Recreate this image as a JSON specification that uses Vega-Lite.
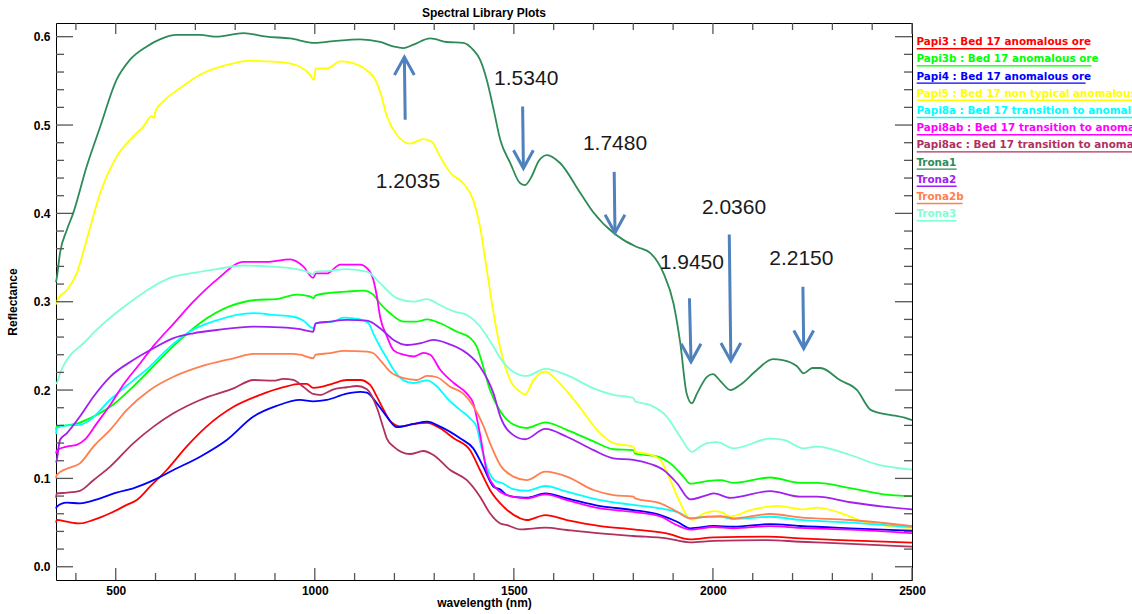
{
"$schema":"https://vega.github.io/schema/vega-lite/v6.json",
"autosize":{"type":"none"},
"padding":{"left":56,"top":23,"right":220,"bottom":34},
"width":856,"height":557,
"title":{"text":"Spectral Library Plots","font":"Liberation Sans","fontSize":12,"fontWeight":"bold","color":"#000","anchor":"middle","offset":2},
"config":{
 "view":{"stroke":"#000","strokeWidth":1},
 "font":"Liberation Sans",
 "axis":{"labelFont":"Liberation Sans","labelFontWeight":"bold","labelFontSize":12,"labelColor":"#000","titleFont":"Liberation Sans","titleFontWeight":"bold","titleFontSize":12,"titleColor":"#000","tickColor":"#444","tickWidth":1.5,"domain":false,"grid":false,"labelOverlap":false,"labelFlush":false},
 "legend":{"orient":"none","legendX":850,"legendY":14,"direction":"vertical","title":null,"padding":0,"symbolSize":0,"symbolStrokeWidth":0,"symbolOpacity":0,"labelOffset":0,"labelFont":"DejaVu Sans","labelFontWeight":"bold","labelFontSize":10.4,"labelLimit":800,"rowPadding":2.2}
},
"datasets":{
"xmaj":[{"t":500},{"t":1000},{"t":1500},{"t":2000},{"t":2500}],
"xmin":[{"t":400},{"t":600},{"t":700},{"t":800},{"t":900},{"t":1100},{"t":1200},{"t":1300},{"t":1400},{"t":1600},{"t":1700},{"t":1800},{"t":1900},{"t":2100},{"t":2200},{"t":2300},{"t":2400}],
"ymaj":[{"t":0},{"t":0.1},{"t":0.2},{"t":0.3},{"t":0.4},{"t":0.5},{"t":0.6}],
"ymin":[{"t":0.02},{"t":0.04},{"t":0.06},{"t":0.08},{"t":0.12},{"t":0.14},{"t":0.16},{"t":0.18},{"t":0.22},{"t":0.24},{"t":0.26},{"t":0.28},{"t":0.32},{"t":0.34},{"t":0.36},{"t":0.38},{"t":0.42},{"t":0.44},{"t":0.46},{"t":0.48},{"t":0.52},{"t":0.54},{"t":0.56},{"t":0.58}],
"series":[
{"s":"Papi3","label":"Papi3 : Bed 17 anomalous ore"},
{"s":"Papi3b","label":"Papi3b : Bed 17 anomalous ore"},
{"s":"Papi4","label":"Papi4 : Bed 17 anomalous ore"},
{"s":"Papi5","label":"Papi5 : Bed 17 non typical anomalous ore"},
{"s":"Papi8a","label":"Papi8a : Bed 17 transition to anomalous ore"},
{"s":"Papi8ab","label":"Papi8ab : Bed 17 transition to anomalous ore"},
{"s":"Papi8ac","label":"Papi8ac : Bed 17 transition to anomalous ore"},
{"s":"Trona1","label":"Trona1"},
{"s":"Trona2","label":"Trona2"},
{"s":"Trona2b","label":"Trona2b"},
{"s":"Trona3","label":"Trona3"}
],
"notes":[
{"lab":"1.2035","x1":1227,"y1":0.506,"x2":1225,"y2":0.577,"dir":"up","tx":1234,"ty":0.436},
{"lab":"1.5340","x1":1522,"y1":0.521,"x2":1524,"y2":0.451,"dir":"down","tx":1531,"ty":0.552},
{"lab":"1.7480","x1":1752,"y1":0.447,"x2":1754,"y2":0.378,"dir":"down","tx":1754,"ty":0.479},
{"lab":"1.9450","x1":1941,"y1":0.304,"x2":1945,"y2":0.232,"dir":"down","tx":1947,"ty":0.344},
{"lab":"2.0360","x1":2041,"y1":0.376,"x2":2045,"y2":0.233,"dir":"down","tx":2053,"ty":0.406},
{"lab":"2.2150","x1":2226,"y1":0.317,"x2":2228,"y2":0.247,"dir":"down","tx":2222,"ty":0.348}
],
"spectra":[
{"s":"Papi3","w":350,"r":0.05},{"s":"Papi3","w":352,"r":0.053},{"s":"Papi3","w":377,"r":0.051},{"s":"Papi3","w":410,"r":0.049},{"s":"Papi3","w":444,"r":0.053},{"s":"Papi3","w":486,"r":0.0605},{"s":"Papi3","w":528,"r":0.07},{"s":"Papi3","w":553,"r":0.0755},{"s":"Papi3","w":586,"r":0.0906},{"s":"Papi3","w":628,"r":0.1095},{"s":"Papi3","w":678,"r":0.136},{"s":"Papi3","w":728,"r":0.1586},{"s":"Papi3","w":796,"r":0.181},{"s":"Papi3","w":863,"r":0.1945},{"s":"Papi3","w":921,"r":0.2032},{"s":"Papi3","w":963,"r":0.207},{"s":"Papi3","w":980,"r":0.207},{"s":"Papi3","w":996,"r":0.2025},{"s":"Papi3","w":1013,"r":0.2032},{"s":"Papi3","w":1047,"r":0.2077},{"s":"Papi3","w":1080,"r":0.2114},{"s":"Papi3","w":1114,"r":0.2114},{"s":"Papi3","w":1139,"r":0.2058},{"s":"Papi3","w":1156,"r":0.1925},{"s":"Papi3","w":1173,"r":0.1775},{"s":"Papi3","w":1189,"r":0.165},{"s":"Papi3","w":1214,"r":0.159},{"s":"Papi3","w":1248,"r":0.1616},{"s":"Papi3","w":1282,"r":0.163},{"s":"Papi3","w":1315,"r":0.1567},{"s":"Papi3","w":1349,"r":0.1454},{"s":"Papi3","w":1390,"r":0.132},{"s":"Papi3","w":1415,"r":0.1095},{"s":"Papi3","w":1440,"r":0.0869},{"s":"Papi3","w":1474,"r":0.068},{"s":"Papi3","w":1516,"r":0.0548},{"s":"Papi3","w":1532,"r":0.0529},{"s":"Papi3","w":1579,"r":0.0585},{"s":"Papi3","w":1633,"r":0.0529},{"s":"Papi3","w":1717,"r":0.0461},{"s":"Papi3","w":1800,"r":0.0423},{"s":"Papi3","w":1884,"r":0.0378},{"s":"Papi3","w":1943,"r":0.031},{"s":"Papi3","w":2002,"r":0.0333},{"s":"Papi3","w":2136,"r":0.034},{"s":"Papi3","w":2219,"r":0.0321},{"s":"Papi3","w":2320,"r":0.0302},{"s":"Papi3","w":2500,"r":0.0272},
{"s":"Papi3b","w":350,"r":0.155},{"s":"Papi3b","w":352,"r":0.159},{"s":"Papi3b","w":377,"r":0.16},{"s":"Papi3b","w":402,"r":0.162},{"s":"Papi3b","w":435,"r":0.168},{"s":"Papi3b","w":486,"r":0.181},{"s":"Papi3b","w":544,"r":0.204},{"s":"Papi3b","w":586,"r":0.223},{"s":"Papi3b","w":650,"r":0.252},{"s":"Papi3b","w":712,"r":0.276},{"s":"Papi3b","w":787,"r":0.295},{"s":"Papi3b","w":854,"r":0.302},{"s":"Papi3b","w":904,"r":0.303},{"s":"Papi3b","w":955,"r":0.308},{"s":"Papi3b","w":988,"r":0.306},{"s":"Papi3b","w":997,"r":0.304},{"s":"Papi3b","w":1001,"r":0.307},{"s":"Papi3b","w":1038,"r":0.31},{"s":"Papi3b","w":1080,"r":0.3115},{"s":"Papi3b","w":1122,"r":0.3126},{"s":"Papi3b","w":1147,"r":0.308},{"s":"Papi3b","w":1164,"r":0.298},{"s":"Papi3b","w":1189,"r":0.287},{"s":"Papi3b","w":1223,"r":0.2775},{"s":"Papi3b","w":1256,"r":0.2775},{"s":"Papi3b","w":1282,"r":0.28},{"s":"Papi3b","w":1315,"r":0.2756},{"s":"Papi3b","w":1357,"r":0.266},{"s":"Papi3b","w":1390,"r":0.259},{"s":"Papi3b","w":1407,"r":0.249},{"s":"Papi3b","w":1423,"r":0.2265},{"s":"Papi3b","w":1440,"r":0.2},{"s":"Papi3b","w":1466,"r":0.176},{"s":"Papi3b","w":1499,"r":0.161},{"s":"Papi3b","w":1532,"r":0.157},{"s":"Papi3b","w":1579,"r":0.1635},{"s":"Papi3b","w":1633,"r":0.155},{"s":"Papi3b","w":1700,"r":0.142},{"s":"Papi3b","w":1750,"r":0.133},{"s":"Papi3b","w":1800,"r":0.132},{"s":"Papi3b","w":1805,"r":0.128},{"s":"Papi3b","w":1859,"r":0.125},{"s":"Papi3b","w":1893,"r":0.117},{"s":"Papi3b","w":1926,"r":0.102},{"s":"Papi3b","w":1943,"r":0.094},{"s":"Papi3b","w":1985,"r":0.097},{"s":"Papi3b","w":2019,"r":0.098},{"s":"Papi3b","w":2052,"r":0.095},{"s":"Papi3b","w":2144,"r":0.101},{"s":"Papi3b","w":2219,"r":0.095},{"s":"Papi3b","w":2261,"r":0.095},{"s":"Papi3b","w":2345,"r":0.089},{"s":"Papi3b","w":2428,"r":0.082},{"s":"Papi3b","w":2500,"r":0.08},
{"s":"Papi4","w":350,"r":0.066},{"s":"Papi4","w":352,"r":0.068},{"s":"Papi4","w":377,"r":0.0725},{"s":"Papi4","w":410,"r":0.0718},{"s":"Papi4","w":461,"r":0.0775},{"s":"Papi4","w":502,"r":0.0838},{"s":"Papi4","w":544,"r":0.0888},{"s":"Papi4","w":595,"r":0.098},{"s":"Papi4","w":645,"r":0.1095},{"s":"Papi4","w":712,"r":0.1246},{"s":"Papi4","w":779,"r":0.1435},{"s":"Papi4","w":846,"r":0.17},{"s":"Papi4","w":904,"r":0.182},{"s":"Papi4","w":963,"r":0.1888},{"s":"Papi4","w":996,"r":0.1872},{"s":"Papi4","w":1030,"r":0.1888},{"s":"Papi4","w":1080,"r":0.196},{"s":"Papi4","w":1114,"r":0.198},{"s":"Papi4","w":1131,"r":0.197},{"s":"Papi4","w":1156,"r":0.185},{"s":"Papi4","w":1181,"r":0.17},{"s":"Papi4","w":1206,"r":0.158},{"s":"Papi4","w":1248,"r":0.1616},{"s":"Papi4","w":1282,"r":0.1642},{"s":"Papi4","w":1315,"r":0.1586},{"s":"Papi4","w":1365,"r":0.1454},{"s":"Papi4","w":1398,"r":0.134},{"s":"Papi4","w":1423,"r":0.1133},{"s":"Papi4","w":1449,"r":0.0906},{"s":"Papi4","w":1466,"r":0.0875},{"s":"Papi4","w":1483,"r":0.0812},{"s":"Papi4","w":1516,"r":0.0785},{"s":"Papi4","w":1532,"r":0.0781},{"s":"Papi4","w":1579,"r":0.0831},{"s":"Papi4","w":1633,"r":0.0775},{"s":"Papi4","w":1717,"r":0.0687},{"s":"Papi4","w":1800,"r":0.0642},{"s":"Papi4","w":1868,"r":0.0585},{"s":"Papi4","w":1910,"r":0.051},{"s":"Papi4","w":1943,"r":0.0435},{"s":"Papi4","w":2002,"r":0.0461},{"s":"Papi4","w":2052,"r":0.0453},{"s":"Papi4","w":2144,"r":0.0483},{"s":"Papi4","w":2219,"r":0.0461},{"s":"Papi4","w":2345,"r":0.0435},{"s":"Papi4","w":2500,"r":0.0408},
{"s":"Papi5","w":350,"r":0.297},{"s":"Papi5","w":356,"r":0.304},{"s":"Papi5","w":377,"r":0.313},{"s":"Papi5","w":402,"r":0.332},{"s":"Papi5","w":427,"r":0.37},{"s":"Papi5","w":461,"r":0.423},{"s":"Papi5","w":502,"r":0.464},{"s":"Papi5","w":544,"r":0.487},{"s":"Papi5","w":569,"r":0.498},{"s":"Papi5","w":590,"r":0.51},{"s":"Papi5","w":596,"r":0.508},{"s":"Papi5","w":600,"r":0.516},{"s":"Papi5","w":620,"r":0.527},{"s":"Papi5","w":662,"r":0.542},{"s":"Papi5","w":712,"r":0.557},{"s":"Papi5","w":779,"r":0.568},{"s":"Papi5","w":837,"r":0.573},{"s":"Papi5","w":879,"r":0.572},{"s":"Papi5","w":921,"r":0.571},{"s":"Papi5","w":963,"r":0.566},{"s":"Papi5","w":988,"r":0.557},{"s":"Papi5","w":998,"r":0.551},{"s":"Papi5","w":1002,"r":0.564},{"s":"Papi5","w":1030,"r":0.564},{"s":"Papi5","w":1064,"r":0.572},{"s":"Papi5","w":1114,"r":0.567},{"s":"Papi5","w":1130,"r":0.562},{"s":"Papi5","w":1150,"r":0.553},{"s":"Papi5","w":1164,"r":0.538},{"s":"Papi5","w":1181,"r":0.51},{"s":"Papi5","w":1206,"r":0.489},{"s":"Papi5","w":1239,"r":0.479},{"s":"Papi5","w":1273,"r":0.484},{"s":"Papi5","w":1294,"r":0.481},{"s":"Papi5","w":1315,"r":0.464},{"s":"Papi5","w":1340,"r":0.446},{"s":"Papi5","w":1373,"r":0.434},{"s":"Papi5","w":1398,"r":0.415},{"s":"Papi5","w":1415,"r":0.385},{"s":"Papi5","w":1432,"r":0.336},{"s":"Papi5","w":1449,"r":0.287},{"s":"Papi5","w":1466,"r":0.247},{"s":"Papi5","w":1491,"r":0.211},{"s":"Papi5","w":1516,"r":0.198},{"s":"Papi5","w":1528,"r":0.195},{"s":"Papi5","w":1549,"r":0.211},{"s":"Papi5","w":1579,"r":0.221},{"s":"Papi5","w":1608,"r":0.211},{"s":"Papi5","w":1658,"r":0.185},{"s":"Papi5","w":1717,"r":0.151},{"s":"Papi5","w":1750,"r":0.14},{"s":"Papi5","w":1800,"r":0.136},{"s":"Papi5","w":1805,"r":0.13},{"s":"Papi5","w":1843,"r":0.127},{"s":"Papi5","w":1868,"r":0.121},{"s":"Papi5","w":1893,"r":0.098},{"s":"Papi5","w":1918,"r":0.072},{"s":"Papi5","w":1939,"r":0.055},{"s":"Papi5","w":1950,"r":0.053},{"s":"Papi5","w":1976,"r":0.06},{"s":"Papi5","w":2002,"r":0.063},{"s":"Papi5","w":2019,"r":0.062},{"s":"Papi5","w":2044,"r":0.057},{"s":"Papi5","w":2094,"r":0.064},{"s":"Papi5","w":2161,"r":0.069},{"s":"Papi5","w":2228,"r":0.065},{"s":"Papi5","w":2261,"r":0.067},{"s":"Papi5","w":2320,"r":0.061},{"s":"Papi5","w":2378,"r":0.051},{"s":"Papi5","w":2470,"r":0.045},{"s":"Papi5","w":2500,"r":0.044},
{"s":"Papi8a","w":350,"r":0.15},{"s":"Papi8a","w":352,"r":0.157},{"s":"Papi8a","w":377,"r":0.16},{"s":"Papi8a","w":410,"r":0.1605},{"s":"Papi8a","w":435,"r":0.166},{"s":"Papi8a","w":486,"r":0.189},{"s":"Papi8a","w":544,"r":0.211},{"s":"Papi8a","w":586,"r":0.2265},{"s":"Papi8a","w":620,"r":0.242},{"s":"Papi8a","w":678,"r":0.264},{"s":"Papi8a","w":754,"r":0.279},{"s":"Papi8a","w":846,"r":0.287},{"s":"Papi8a","w":896,"r":0.285},{"s":"Papi8a","w":946,"r":0.283},{"s":"Papi8a","w":970,"r":0.279},{"s":"Papi8a","w":996,"r":0.27},{"s":"Papi8a","w":1003,"r":0.2756},{"s":"Papi8a","w":1047,"r":0.2775},{"s":"Papi8a","w":1072,"r":0.282},{"s":"Papi8a","w":1114,"r":0.28},{"s":"Papi8a","w":1135,"r":0.2756},{"s":"Papi8a","w":1147,"r":0.264},{"s":"Papi8a","w":1164,"r":0.249},{"s":"Papi8a","w":1181,"r":0.236},{"s":"Papi8a","w":1198,"r":0.223},{"s":"Papi8a","w":1223,"r":0.211},{"s":"Papi8a","w":1248,"r":0.208},{"s":"Papi8a","w":1282,"r":0.211},{"s":"Papi8a","w":1307,"r":0.204},{"s":"Papi8a","w":1332,"r":0.191},{"s":"Papi8a","w":1365,"r":0.1775},{"s":"Papi8a","w":1390,"r":0.168},{"s":"Papi8a","w":1407,"r":0.158},{"s":"Papi8a","w":1415,"r":0.142},{"s":"Papi8a","w":1432,"r":0.113},{"s":"Papi8a","w":1457,"r":0.0963},{"s":"Papi8a","w":1466,"r":0.0955},{"s":"Papi8a","w":1499,"r":0.0878},{"s":"Papi8a","w":1532,"r":0.086},{"s":"Papi8a","w":1579,"r":0.0914},{"s":"Papi8a","w":1633,"r":0.085},{"s":"Papi8a","w":1717,"r":0.0755},{"s":"Papi8a","w":1800,"r":0.07},{"s":"Papi8a","w":1868,"r":0.066},{"s":"Papi8a","w":1918,"r":0.0605},{"s":"Papi8a","w":1943,"r":0.0548},{"s":"Papi8a","w":1985,"r":0.0566},{"s":"Papi8a","w":2019,"r":0.0566},{"s":"Papi8a","w":2052,"r":0.054},{"s":"Papi8a","w":2144,"r":0.0566},{"s":"Papi8a","w":2219,"r":0.053},{"s":"Papi8a","w":2345,"r":0.05},{"s":"Papi8a","w":2500,"r":0.045},
{"s":"Papi8ab","w":350,"r":0.128},{"s":"Papi8ab","w":352,"r":0.132},{"s":"Papi8ab","w":377,"r":0.136},{"s":"Papi8ab","w":402,"r":0.138},{"s":"Papi8ab","w":425,"r":0.145},{"s":"Papi8ab","w":452,"r":0.162},{"s":"Papi8ab","w":486,"r":0.183},{"s":"Papi8ab","w":519,"r":0.206},{"s":"Papi8ab","w":561,"r":0.23},{"s":"Papi8ab","w":595,"r":0.25},{"s":"Papi8ab","w":645,"r":0.275},{"s":"Papi8ab","w":695,"r":0.3},{"s":"Papi8ab","w":754,"r":0.325},{"s":"Papi8ab","w":821,"r":0.345},{"s":"Papi8ab","w":879,"r":0.345},{"s":"Papi8ab","w":938,"r":0.348},{"s":"Papi8ab","w":971,"r":0.34},{"s":"Papi8ab","w":996,"r":0.327},{"s":"Papi8ab","w":1003,"r":0.332},{"s":"Papi8ab","w":1030,"r":0.332},{"s":"Papi8ab","w":1064,"r":0.342},{"s":"Papi8ab","w":1114,"r":0.342},{"s":"Papi8ab","w":1131,"r":0.338},{"s":"Papi8ab","w":1147,"r":0.325},{"s":"Papi8ab","w":1156,"r":0.306},{"s":"Papi8ab","w":1164,"r":0.283},{"s":"Papi8ab","w":1181,"r":0.261},{"s":"Papi8ab","w":1198,"r":0.245},{"s":"Papi8ab","w":1223,"r":0.24},{"s":"Papi8ab","w":1248,"r":0.238},{"s":"Papi8ab","w":1273,"r":0.242},{"s":"Papi8ab","w":1290,"r":0.24},{"s":"Papi8ab","w":1315,"r":0.223},{"s":"Papi8ab","w":1349,"r":0.208},{"s":"Papi8ab","w":1382,"r":0.196},{"s":"Papi8ab","w":1398,"r":0.185},{"s":"Papi8ab","w":1415,"r":0.15},{"s":"Papi8ab","w":1432,"r":0.108},{"s":"Papi8ab","w":1457,"r":0.088},{"s":"Papi8ab","w":1483,"r":0.081},{"s":"Papi8ab","w":1499,"r":0.079},{"s":"Papi8ab","w":1532,"r":0.0775},{"s":"Papi8ab","w":1579,"r":0.082},{"s":"Papi8ab","w":1633,"r":0.0755},{"s":"Papi8ab","w":1717,"r":0.066},{"s":"Papi8ab","w":1800,"r":0.062},{"s":"Papi8ab","w":1868,"r":0.057},{"s":"Papi8ab","w":1901,"r":0.049},{"s":"Papi8ab","w":1943,"r":0.042},{"s":"Papi8ab","w":2002,"r":0.045},{"s":"Papi8ab","w":2052,"r":0.0435},{"s":"Papi8ab","w":2144,"r":0.046},{"s":"Papi8ab","w":2219,"r":0.044},{"s":"Papi8ab","w":2345,"r":0.042},{"s":"Papi8ab","w":2500,"r":0.038},
{"s":"Papi8ac","w":350,"r":0.078},{"s":"Papi8ac","w":352,"r":0.083},{"s":"Papi8ac","w":377,"r":0.0838},{"s":"Papi8ac","w":410,"r":0.086},{"s":"Papi8ac","w":444,"r":0.098},{"s":"Papi8ac","w":486,"r":0.1133},{"s":"Papi8ac","w":544,"r":0.1397},{"s":"Papi8ac","w":595,"r":0.1586},{"s":"Papi8ac","w":645,"r":0.1737},{"s":"Papi8ac","w":712,"r":0.1888},{"s":"Papi8ac","w":796,"r":0.202},{"s":"Papi8ac","w":846,"r":0.2114},{"s":"Papi8ac","w":896,"r":0.2106},{"s":"Papi8ac","w":921,"r":0.2126},{"s":"Papi8ac","w":946,"r":0.2114},{"s":"Papi8ac","w":971,"r":0.2038},{"s":"Papi8ac","w":996,"r":0.1956},{"s":"Papi8ac","w":1013,"r":0.1945},{"s":"Papi8ac","w":1047,"r":0.2009},{"s":"Papi8ac","w":1080,"r":0.2032},{"s":"Papi8ac","w":1106,"r":0.2046},{"s":"Papi8ac","w":1131,"r":0.2009},{"s":"Papi8ac","w":1156,"r":0.18},{"s":"Papi8ac","w":1173,"r":0.156},{"s":"Papi8ac","w":1181,"r":0.145},{"s":"Papi8ac","w":1198,"r":0.136},{"s":"Papi8ac","w":1239,"r":0.1276},{"s":"Papi8ac","w":1273,"r":0.131},{"s":"Papi8ac","w":1298,"r":0.1265},{"s":"Papi8ac","w":1340,"r":0.1095},{"s":"Papi8ac","w":1382,"r":0.098},{"s":"Papi8ac","w":1415,"r":0.0793},{"s":"Papi8ac","w":1440,"r":0.0605},{"s":"Papi8ac","w":1466,"r":0.049},{"s":"Papi8ac","w":1483,"r":0.0472},{"s":"Papi8ac","w":1516,"r":0.0423},{"s":"Papi8ac","w":1579,"r":0.0442},{"s":"Papi8ac","w":1633,"r":0.0416},{"s":"Papi8ac","w":1717,"r":0.0378},{"s":"Papi8ac","w":1800,"r":0.0348},{"s":"Papi8ac","w":1884,"r":0.0321},{"s":"Papi8ac","w":1943,"r":0.0276},{"s":"Papi8ac","w":2002,"r":0.0294},{"s":"Papi8ac","w":2136,"r":0.0302},{"s":"Papi8ac","w":2219,"r":0.0283},{"s":"Papi8ac","w":2320,"r":0.0265},{"s":"Papi8ac","w":2500,"r":0.0227},
{"s":"Trona1","w":350,"r":0.322},{"s":"Trona1","w":352,"r":0.327},{"s":"Trona1","w":360,"r":0.355},{"s":"Trona1","w":377,"r":0.381},{"s":"Trona1","w":393,"r":0.4},{"s":"Trona1","w":427,"r":0.453},{"s":"Trona1","w":461,"r":0.498},{"s":"Trona1","w":502,"r":0.551},{"s":"Trona1","w":536,"r":0.574},{"s":"Trona1","w":578,"r":0.589},{"s":"Trona1","w":611,"r":0.597},{"s":"Trona1","w":653,"r":0.602},{"s":"Trona1","w":712,"r":0.602},{"s":"Trona1","w":754,"r":0.6},{"s":"Trona1","w":821,"r":0.604},{"s":"Trona1","w":879,"r":0.6},{"s":"Trona1","w":938,"r":0.598},{"s":"Trona1","w":1000,"r":0.593},{"s":"Trona1","w":1047,"r":0.595},{"s":"Trona1","w":1114,"r":0.597},{"s":"Trona1","w":1164,"r":0.594},{"s":"Trona1","w":1197,"r":0.589},{"s":"Trona1","w":1222,"r":0.587},{"s":"Trona1","w":1248,"r":0.591},{"s":"Trona1","w":1290,"r":0.598},{"s":"Trona1","w":1332,"r":0.594},{"s":"Trona1","w":1373,"r":0.593},{"s":"Trona1","w":1398,"r":0.585},{"s":"Trona1","w":1415,"r":0.574},{"s":"Trona1","w":1432,"r":0.551},{"s":"Trona1","w":1449,"r":0.518},{"s":"Trona1","w":1466,"r":0.483},{"s":"Trona1","w":1491,"r":0.457},{"s":"Trona1","w":1516,"r":0.434},{"s":"Trona1","w":1528,"r":0.432},{"s":"Trona1","w":1545,"r":0.442},{"s":"Trona1","w":1562,"r":0.459},{"s":"Trona1","w":1583,"r":0.466},{"s":"Trona1","w":1616,"r":0.457},{"s":"Trona1","w":1667,"r":0.423},{"s":"Trona1","w":1700,"r":0.401},{"s":"Trona1","w":1750,"r":0.378},{"s":"Trona1","w":1775,"r":0.37},{"s":"Trona1","w":1809,"r":0.362},{"s":"Trona1","w":1843,"r":0.355},{"s":"Trona1","w":1876,"r":0.332},{"s":"Trona1","w":1901,"r":0.298},{"s":"Trona1","w":1918,"r":0.253},{"s":"Trona1","w":1934,"r":0.196},{"s":"Trona1","w":1947,"r":0.185},{"s":"Trona1","w":1960,"r":0.196},{"s":"Trona1","w":1985,"r":0.215},{"s":"Trona1","w":2000,"r":0.218},{"s":"Trona1","w":2019,"r":0.21},{"s":"Trona1","w":2044,"r":0.2},{"s":"Trona1","w":2069,"r":0.206},{"s":"Trona1","w":2111,"r":0.223},{"s":"Trona1","w":2150,"r":0.235},{"s":"Trona1","w":2175,"r":0.234},{"s":"Trona1","w":2211,"r":0.227},{"s":"Trona1","w":2228,"r":0.219},{"s":"Trona1","w":2250,"r":0.225},{"s":"Trona1","w":2270,"r":0.225},{"s":"Trona1","w":2320,"r":0.211},{"s":"Trona1","w":2362,"r":0.2},{"s":"Trona1","w":2395,"r":0.178},{"s":"Trona1","w":2410,"r":0.175},{"s":"Trona1","w":2445,"r":0.172},{"s":"Trona1","w":2487,"r":0.168},{"s":"Trona1","w":2500,"r":0.166},
{"s":"Trona2","w":350,"r":0.118},{"s":"Trona2","w":352,"r":0.121},{"s":"Trona2","w":360,"r":0.1435},{"s":"Trona2","w":377,"r":0.151},{"s":"Trona2","w":410,"r":0.17},{"s":"Trona2","w":444,"r":0.1925},{"s":"Trona2","w":486,"r":0.215},{"s":"Trona2","w":544,"r":0.234},{"s":"Trona2","w":595,"r":0.2473},{"s":"Trona2","w":645,"r":0.2587},{"s":"Trona2","w":695,"r":0.2643},{"s":"Trona2","w":754,"r":0.268},{"s":"Trona2","w":846,"r":0.2718},{"s":"Trona2","w":913,"r":0.271},{"s":"Trona2","w":963,"r":0.269},{"s":"Trona2","w":996,"r":0.266},{"s":"Trona2","w":1002,"r":0.2756},{"s":"Trona2","w":1038,"r":0.2775},{"s":"Trona2","w":1080,"r":0.2794},{"s":"Trona2","w":1131,"r":0.2786},{"s":"Trona2","w":1164,"r":0.27},{"s":"Trona2","w":1198,"r":0.2567},{"s":"Trona2","w":1231,"r":0.251},{"s":"Trona2","w":1265,"r":0.253},{"s":"Trona2","w":1298,"r":0.2567},{"s":"Trona2","w":1332,"r":0.253},{"s":"Trona2","w":1382,"r":0.2417},{"s":"Trona2","w":1415,"r":0.2265},{"s":"Trona2","w":1449,"r":0.196},{"s":"Trona2","w":1466,"r":0.17},{"s":"Trona2","w":1499,"r":0.149},{"s":"Trona2","w":1528,"r":0.1443},{"s":"Trona2","w":1579,"r":0.156},{"s":"Trona2","w":1633,"r":0.1472},{"s":"Trona2","w":1700,"r":0.132},{"s":"Trona2","w":1750,"r":0.1227},{"s":"Trona2","w":1800,"r":0.121},{"s":"Trona2","w":1843,"r":0.1163},{"s":"Trona2","w":1876,"r":0.1095},{"s":"Trona2","w":1910,"r":0.0944},{"s":"Trona2","w":1943,"r":0.0763},{"s":"Trona2","w":1985,"r":0.0812},{"s":"Trona2","w":2002,"r":0.0831},{"s":"Trona2","w":2044,"r":0.078},{"s":"Trona2","w":2144,"r":0.0857},{"s":"Trona2","w":2219,"r":0.0793},{"s":"Trona2","w":2261,"r":0.0793},{"s":"Trona2","w":2345,"r":0.073},{"s":"Trona2","w":2428,"r":0.068},{"s":"Trona2","w":2500,"r":0.065},
{"s":"Trona2b","w":350,"r":0.1},{"s":"Trona2b","w":352,"r":0.104},{"s":"Trona2b","w":377,"r":0.111},{"s":"Trona2b","w":410,"r":0.117},{"s":"Trona2b","w":444,"r":0.136},{"s":"Trona2b","w":486,"r":0.155},{"s":"Trona2b","w":528,"r":0.1775},{"s":"Trona2b","w":586,"r":0.2},{"s":"Trona2b","w":645,"r":0.215},{"s":"Trona2b","w":712,"r":0.2265},{"s":"Trona2b","w":796,"r":0.236},{"s":"Trona2b","w":846,"r":0.241},{"s":"Trona2b","w":946,"r":0.241},{"s":"Trona2b","w":963,"r":0.24},{"s":"Trona2b","w":996,"r":0.236},{"s":"Trona2b","w":1002,"r":0.24},{"s":"Trona2b","w":1038,"r":0.2417},{"s":"Trona2b","w":1072,"r":0.2443},{"s":"Trona2b","w":1131,"r":0.2435},{"s":"Trona2b","w":1147,"r":0.2417},{"s":"Trona2b","w":1164,"r":0.234},{"s":"Trona2b","w":1189,"r":0.2208},{"s":"Trona2b","w":1223,"r":0.2134},{"s":"Trona2b","w":1256,"r":0.2114},{"s":"Trona2b","w":1282,"r":0.216},{"s":"Trona2b","w":1307,"r":0.2145},{"s":"Trona2b","w":1340,"r":0.2038},{"s":"Trona2b","w":1373,"r":0.196},{"s":"Trona2b","w":1398,"r":0.182},{"s":"Trona2b","w":1423,"r":0.16},{"s":"Trona2b","w":1440,"r":0.14},{"s":"Trona2b","w":1466,"r":0.115},{"s":"Trona2b","w":1499,"r":0.102},{"s":"Trona2b","w":1532,"r":0.098},{"s":"Trona2b","w":1579,"r":0.1076},{"s":"Trona2b","w":1633,"r":0.102},{"s":"Trona2b","w":1700,"r":0.0869},{"s":"Trona2b","w":1750,"r":0.0812},{"s":"Trona2b","w":1800,"r":0.0793},{"s":"Trona2b","w":1805,"r":0.0774},{"s":"Trona2b","w":1868,"r":0.0718},{"s":"Trona2b","w":1910,"r":0.0623},{"s":"Trona2b","w":1943,"r":0.0548},{"s":"Trona2b","w":1985,"r":0.0566},{"s":"Trona2b","w":2019,"r":0.0574},{"s":"Trona2b","w":2052,"r":0.0548},{"s":"Trona2b","w":2144,"r":0.0597},{"s":"Trona2b","w":2219,"r":0.056},{"s":"Trona2b","w":2345,"r":0.0529},{"s":"Trona2b","w":2500,"r":0.046},
{"s":"Trona3","w":350,"r":0.207},{"s":"Trona3","w":352,"r":0.208},{"s":"Trona3","w":360,"r":0.219},{"s":"Trona3","w":377,"r":0.234},{"s":"Trona3","w":419,"r":0.253},{"s":"Trona3","w":461,"r":0.272},{"s":"Trona3","w":511,"r":0.291},{"s":"Trona3","w":544,"r":0.302},{"s":"Trona3","w":586,"r":0.315},{"s":"Trona3","w":636,"r":0.327},{"s":"Trona3","w":687,"r":0.332},{"s":"Trona3","w":754,"r":0.337},{"s":"Trona3","w":821,"r":0.341},{"s":"Trona3","w":879,"r":0.34},{"s":"Trona3","w":938,"r":0.338},{"s":"Trona3","w":980,"r":0.334},{"s":"Trona3","w":996,"r":0.331},{"s":"Trona3","w":1001,"r":0.334},{"s":"Trona3","w":1038,"r":0.335},{"s":"Trona3","w":1080,"r":0.337},{"s":"Trona3","w":1131,"r":0.334},{"s":"Trona3","w":1164,"r":0.321},{"s":"Trona3","w":1206,"r":0.304},{"s":"Trona3","w":1248,"r":0.3},{"s":"Trona3","w":1282,"r":0.303},{"s":"Trona3","w":1315,"r":0.296},{"s":"Trona3","w":1349,"r":0.289},{"s":"Trona3","w":1382,"r":0.285},{"s":"Trona3","w":1415,"r":0.272},{"s":"Trona3","w":1449,"r":0.249},{"s":"Trona3","w":1466,"r":0.236},{"s":"Trona3","w":1483,"r":0.2265},{"s":"Trona3","w":1516,"r":0.217},{"s":"Trona3","w":1532,"r":0.216},{"s":"Trona3","w":1579,"r":0.224},{"s":"Trona3","w":1633,"r":0.217},{"s":"Trona3","w":1700,"r":0.202},{"s":"Trona3","w":1750,"r":0.1945},{"s":"Trona3","w":1800,"r":0.191},{"s":"Trona3","w":1805,"r":0.187},{"s":"Trona3","w":1843,"r":0.183},{"s":"Trona3","w":1884,"r":0.17},{"s":"Trona3","w":1918,"r":0.147},{"s":"Trona3","w":1947,"r":0.13},{"s":"Trona3","w":1968,"r":0.136},{"s":"Trona3","w":1985,"r":0.14},{"s":"Trona3","w":2010,"r":0.141},{"s":"Trona3","w":2052,"r":0.134},{"s":"Trona3","w":2144,"r":0.145},{"s":"Trona3","w":2178,"r":0.1435},{"s":"Trona3","w":2228,"r":0.134},{"s":"Trona3","w":2261,"r":0.136},{"s":"Trona3","w":2345,"r":0.1265},{"s":"Trona3","w":2412,"r":0.116},{"s":"Trona3","w":2500,"r":0.11}
]
},
"layer":[
{
 "data":{"name":"spectra"},
 "transform":[{"filter":"indexof(datum.s, 'Papi') === 0"},{"lookup":"s","from":{"data":{"name":"series"},"key":"s","fields":["label"]}}],
 "mark":{"type":"line","strokeWidth":1.8,"interpolate":"monotone"},
 "encoding":{
  "x":{"field":"w","type":"quantitative","scale":{"domain":[350,2500],"nice":false,"zero":false},
   "axis":{"orient":"bottom","values":[500,1000,1500,2000,2500],"format":"d","ticks":false,"labelPadding":5,"title":"wavelength (nm)","titlePadding":1}},
  "y":{"field":"r","type":"quantitative","scale":{"domain":[-0.015,0.6155],"nice":false,"zero":false},
   "axis":{"orient":"left","values":[0,0.1,0.2,0.3,0.4,0.5,0.6],"format":".1f","ticks":false,"labelPadding":6,"title":"Reflectance","titlePadding":14}},
  "color":{"field":"label","type":"nominal",
   "scale":{"domain":["Papi3 : Bed 17 anomalous ore","Papi3b : Bed 17 anomalous ore","Papi4 : Bed 17 anomalous ore","Papi5 : Bed 17 non typical anomalous ore","Papi8a : Bed 17 transition to anomalous ore","Papi8ab : Bed 17 transition to anomalous ore","Papi8ac : Bed 17 transition to anomalous ore","Trona1","Trona2","Trona2b","Trona3"],
    "range":["#ff0000","#00ff00","#0000ff","#ffff00","#00ffff","#ff00ff","#b03060","#2e8b57","#a020f0","#ff7f50","#7fffd4"]},
   "legend":{"encode":{
     "labels":{"update":{"fill":{"scale":"color","field":"value"}}},
     "symbols":{"update":{"shape":{"signal":"'M5.5,6.5L' + (5.5 + 5.86*length(datum.label) + 4.8) + ',6.5'"},"size":{"value":4},"stroke":{"scale":"color","field":"value"},"strokeWidth":{"value":1.4},"opacity":{"value":1},"strokeOpacity":{"value":1},"fill":{"value":"transparent"}}}}}}
 }
},
{
 "data":{"name":"spectra"},
 "transform":[{"filter":"indexof(datum.s, 'Trona') === 0"},{"lookup":"s","from":{"data":{"name":"series"},"key":"s","fields":["label"]}}],
 "mark":{"type":"line","strokeWidth":1.8,"interpolate":"monotone"},
 "encoding":{
  "x":{"field":"w","type":"quantitative","scale":{"domain":[350,2500],"nice":false,"zero":false},"axis":null},
  "y":{"field":"r","type":"quantitative","scale":{"domain":[-0.015,0.6155],"nice":false,"zero":false},"axis":null},
  "color":{"field":"label","type":"nominal",
   "scale":{"domain":["Papi3 : Bed 17 anomalous ore","Papi3b : Bed 17 anomalous ore","Papi4 : Bed 17 anomalous ore","Papi5 : Bed 17 non typical anomalous ore","Papi8a : Bed 17 transition to anomalous ore","Papi8ab : Bed 17 transition to anomalous ore","Papi8ac : Bed 17 transition to anomalous ore","Trona1","Trona2","Trona2b","Trona3"],
    "range":["#ff0000","#00ff00","#0000ff","#ffff00","#00ffff","#ff00ff","#b03060","#2e8b57","#a020f0","#ff7f50","#7fffd4"]},
   "legend":{"encode":{
     "labels":{"update":{"fill":{"scale":"color","field":"value"}}},
     "symbols":{"update":{"shape":{"signal":"'M5.5,6.5L' + (5.5 + 5.86*length(datum.label) + 4.8) + ',6.5'"},"size":{"value":4},"stroke":{"scale":"color","field":"value"},"strokeWidth":{"value":1.4},"opacity":{"value":1},"strokeOpacity":{"value":1},"fill":{"value":"transparent"}}}}}}
 }
},
{
 "data":{"name":"notes"},
 "mark":{"type":"rule","color":"#4f81bd","strokeWidth":3},
 "encoding":{
  "x":{"field":"x1","type":"quantitative","scale":{"domain":[350,2500],"nice":false,"zero":false},"axis":null},
  "y":{"field":"y1","type":"quantitative","scale":{"domain":[-0.015,0.6155],"nice":false,"zero":false},"axis":null},
  "x2":{"field":"x2"},"y2":{"field":"y2"}}
},
{
 "data":{"name":"notes"},
 "mark":{"type":"point","filled":false,"color":"#4f81bd","strokeWidth":3,"size":1296,"opacity":1},
 "encoding":{
  "x":{"field":"x2","type":"quantitative","scale":{"domain":[350,2500],"nice":false,"zero":false},"axis":null},
  "y":{"field":"y2","type":"quantitative","scale":{"domain":[-0.015,0.6155],"nice":false,"zero":false},"axis":null},
  "shape":{"field":"dir","type":"nominal","scale":{"domain":["up","down"],"range":["M-0.55,1L0,0L0.55,1","M-0.55,-1L0,0L0.55,-1"]},"legend":null}}
},
{
 "data":{"name":"notes"},
 "mark":{"type":"text","font":"Liberation Sans","fontSize":21,"color":"#1a1a1a","align":"center","baseline":"middle"},
 "encoding":{
  "x":{"field":"tx","type":"quantitative","scale":{"domain":[350,2500],"nice":false,"zero":false},"axis":null},
  "y":{"field":"ty","type":"quantitative","scale":{"domain":[-0.015,0.6155],"nice":false,"zero":false},"axis":null},
  "text":{"field":"lab"}}
},
{
 "data":{"name":"xmaj"},
 "mark":{"type":"rule","color":"#555","strokeWidth":1.3},
 "encoding":{
  "x":{"field":"t","type":"quantitative","scale":{"domain":[350,2500],"nice":false,"zero":false},"axis":null},
  "y":{"datum":-0.015,"type":"quantitative","scale":{"domain":[-0.015,0.6155],"nice":false,"zero":false},"axis":null},
  "y2":{"datum":-0.0014}}
},
{
 "data":{"name":"xmin"},
 "mark":{"type":"rule","color":"#555","strokeWidth":1.3},
 "encoding":{
  "x":{"field":"t","type":"quantitative","scale":{"domain":[350,2500],"nice":false,"zero":false},"axis":null},
  "y":{"datum":-0.015,"type":"quantitative","scale":{"domain":[-0.015,0.6155],"nice":false,"zero":false},"axis":null},
  "y2":{"datum":-0.0071}}
},
{
 "data":{"name":"xmaj"},
 "mark":{"type":"rule","color":"#555","strokeWidth":1.3},
 "encoding":{
  "x":{"field":"t","type":"quantitative","scale":{"domain":[350,2500],"nice":false,"zero":false},"axis":null},
  "y":{"datum":0.6155,"type":"quantitative","scale":{"domain":[-0.015,0.6155],"nice":false,"zero":false},"axis":null},
  "y2":{"datum":0.6031}}
},
{
 "data":{"name":"xmin"},
 "mark":{"type":"rule","color":"#555","strokeWidth":1.3},
 "encoding":{
  "x":{"field":"t","type":"quantitative","scale":{"domain":[350,2500],"nice":false,"zero":false},"axis":null},
  "y":{"datum":0.6155,"type":"quantitative","scale":{"domain":[-0.015,0.6155],"nice":false,"zero":false},"axis":null},
  "y2":{"datum":0.6076}}
},
{
 "data":{"name":"ymaj"},
 "mark":{"type":"rule","color":"#555","strokeWidth":1.3},
 "encoding":{
  "y":{"field":"t","type":"quantitative","scale":{"domain":[-0.015,0.6155],"nice":false,"zero":false},"axis":null},
  "x":{"datum":350,"type":"quantitative","scale":{"domain":[350,2500],"nice":false,"zero":false},"axis":null},
  "x2":{"datum":392.7}}
},
{
 "data":{"name":"ymin"},
 "mark":{"type":"rule","color":"#555","strokeWidth":1.3},
 "encoding":{
  "y":{"field":"t","type":"quantitative","scale":{"domain":[-0.015,0.6155],"nice":false,"zero":false},"axis":null},
  "x":{"datum":350,"type":"quantitative","scale":{"domain":[350,2500],"nice":false,"zero":false},"axis":null},
  "x2":{"datum":370.1}}
},
{
 "data":{"name":"ymaj"},
 "mark":{"type":"rule","color":"#555","strokeWidth":1.3},
 "encoding":{
  "y":{"field":"t","type":"quantitative","scale":{"domain":[-0.015,0.6155],"nice":false,"zero":false},"axis":null},
  "x":{"datum":2500,"type":"quantitative","scale":{"domain":[350,2500],"nice":false,"zero":false},"axis":null},
  "x2":{"datum":2457.3}}
},
{
 "data":{"name":"ymin"},
 "mark":{"type":"rule","color":"#555","strokeWidth":1.3},
 "encoding":{
  "y":{"field":"t","type":"quantitative","scale":{"domain":[-0.015,0.6155],"nice":false,"zero":false},"axis":null},
  "x":{"datum":2500,"type":"quantitative","scale":{"domain":[350,2500],"nice":false,"zero":false},"axis":null},
  "x2":{"datum":2479.9}}
}
],
"resolve":{"axis":{"x":"independent","y":"independent"}}
}
